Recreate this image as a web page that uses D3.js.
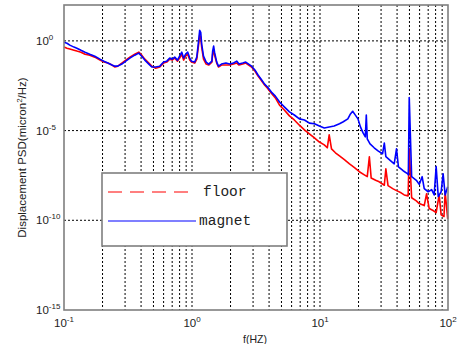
<!DOCTYPE html>
<html>
<head>
<meta charset="utf-8">
<script src="https://cdn.jsdelivr.net/npm/d3@7"></script>
<style>
  body { margin: 0; background: #fff; }
  svg { display: block; }
</style>
</head>
<body>
<figure id="psd" style="margin:0"></figure>
<script>
// magnet (blue)
const magnetFreq = [0.1, 0.1055, 0.111, 0.1197, 0.126, 0.1357, 0.146, 0.159, 0.174, 0.191, 0.205, 0.22, 0.237, 0.25, 0.263, 0.283, 0.304, 0.327, 0.357, 0.384, 0.405, 0.428, 0.46, 0.485, 0.52, 0.56, 0.6, 0.635, 0.67, 0.7, 0.733, 0.77, 0.8, 0.832, 0.86, 0.89, 0.926, 0.96, 0.99, 1.05, 1.09, 1.13, 1.148, 1.17, 1.19, 1.23, 1.29, 1.35, 1.43, 1.45, 1.476, 1.5, 1.56, 1.61, 1.7, 1.84, 1.97, 2.11, 2.24, 2.33, 2.49, 2.63, 2.77, 2.92, 3.1, 3.28, 3.46, 3.69, 3.89, 4.17, 4.48, 4.83, 5.26, 5.77, 6.3, 6.9, 7.56, 8.26, 9.05, 9.89, 10.8, 11.8, 12.9, 14.2, 15.2, 16.5, 17.3, 18.0, 18.6, 19.8, 20.7, 21.7, 22.6, 23.0, 23.4, 24.6, 26.5, 28.4, 30.8, 31.8, 32.7, 35.5, 38.0, 39.6, 41.0, 44.6, 48.5, 49.0, 49.8, 52.0, 56.6, 59.6, 62.8, 65.2, 70.0, 74.5, 78.0, 80.8, 83.9, 88.4, 91.6, 95.0, 99.5];
const magnetPSD = [0.85, 0.74, 0.58, 0.45, 0.39, 0.3, 0.235, 0.18, 0.14, 0.096, 0.074, 0.058, 0.045, 0.039, 0.039, 0.051, 0.074, 0.11, 0.16, 0.207, 0.14, 0.085, 0.051, 0.035, 0.035, 0.039, 0.066, 0.074, 0.11, 0.096, 0.124, 0.085, 0.14, 0.235, 0.11, 0.18, 0.235, 0.11, 0.074, 0.066, 0.124, 1.24, 3.9, 3.0, 0.66, 0.14, 0.066, 0.051, 0.074, 0.27, 0.51, 0.235, 0.066, 0.039, 0.051, 0.058, 0.051, 0.058, 0.074, 0.051, 0.058, 0.066, 0.051, 0.039, 0.024, 0.0125, 0.0075, 0.0039, 0.0027, 0.0014, 8.3e-4, 3.9e-4, 2.1e-4, 1.1e-4, 7.4e-5, 4.5e-5, 3.9e-5, 2.6e-5, 2.4e-5, 1.8e-5, 1.4e-5, 1.6e-5, 1.8e-5, 2.4e-5, 3.1e-5, 4.5e-5, 8.5e-5, 1.2e-4, 8.5e-5, 4.5e-5, 1.6e-5, 7.4e-6, 4.5e-6, 7.4e-5, 3.5e-6, 1.8e-6, 1.1e-6, 7.4e-7, 5.1e-7, 2.0e-6, 3.5e-7, 2.1e-7, 1.4e-7, 9.6e-7, 9.6e-8, 5.8e-8, 3.9e-8, 3.4e-8, 7.0e-4, 2.7e-8, 1.7e-8, 1.0e-8, 2.7e-8, 5.8e-9, 3.9e-9, 5.1e-9, 2.6e-9, 1.0e-7, 2.1e-9, 3.9e-9, 3.9e-8, 2.6e-9, 7.4e-9];

// floor (red)
const floorFreq = [0.1, 0.1055, 0.111, 0.1197, 0.126, 0.1357, 0.146, 0.159, 0.174, 0.191, 0.205, 0.22, 0.237, 0.25, 0.263, 0.283, 0.304, 0.327, 0.357, 0.384, 0.405, 0.428, 0.46, 0.485, 0.52, 0.56, 0.6, 0.635, 0.67, 0.7, 0.733, 0.77, 0.8, 0.832, 0.86, 0.89, 0.926, 0.96, 0.99, 1.05, 1.09, 1.13, 1.148, 1.17, 1.19, 1.23, 1.29, 1.35, 1.43, 1.45, 1.476, 1.5, 1.56, 1.61, 1.7, 1.84, 1.97, 2.11, 2.24, 2.33, 2.49, 2.63, 2.77, 2.92, 3.1, 3.28, 3.46, 3.69, 3.89, 4.17, 4.48, 4.83, 5.26, 5.77, 6.3, 6.9, 7.56, 8.26, 9.05, 9.89, 10.8, 11.4, 11.8, 12.3, 13.2, 14.2, 15.5, 17.0, 18.6, 20.3, 22.2, 23.4, 24.3, 25.1, 27.2, 29.0, 31.8, 32.7, 34.0, 37.0, 39.6, 43.0, 45.5, 48.8, 49.8, 52.0, 56.6, 59.6, 65.2, 68.0, 71.3, 76.5, 80.8, 85.3, 88.4, 93.0, 95.0, 99.5];
const floorPSD = [0.45, 0.39, 0.35, 0.3, 0.27, 0.235, 0.18, 0.16, 0.124, 0.085, 0.066, 0.058, 0.045, 0.035, 0.039, 0.058, 0.085, 0.124, 0.18, 0.235, 0.16, 0.096, 0.058, 0.039, 0.03, 0.035, 0.058, 0.066, 0.096, 0.085, 0.11, 0.074, 0.11, 0.18, 0.085, 0.14, 0.18, 0.085, 0.066, 0.058, 0.096, 0.74, 2.1, 1.6, 0.45, 0.096, 0.051, 0.045, 0.066, 0.18, 0.3, 0.16, 0.058, 0.035, 0.045, 0.045, 0.045, 0.051, 0.058, 0.045, 0.051, 0.058, 0.045, 0.035, 0.021, 0.011, 0.0066, 0.0035, 0.0023, 0.0012, 6.6e-4, 2.6e-4, 1.4e-4, 6.6e-5, 3.9e-5, 2.0e-5, 1.1e-5, 6.6e-6, 3.9e-6, 2.3e-6, 1.6e-6, 1.1e-6, 5.8e-6, 9.6e-7, 5.8e-7, 3.9e-7, 2.4e-7, 1.4e-7, 8.5e-8, 5.1e-8, 3.4e-8, 2.7e-8, 3.5e-7, 2.3e-8, 1.7e-8, 1.4e-8, 9.0e-9, 7.4e-8, 8.5e-9, 5.8e-9, 4.5e-9, 3.4e-9, 2.6e-9, 2.3e-9, 9.6e-7, 1.8e-9, 1.2e-9, 8.5e-10, 6.6e-10, 3.0e-9, 4.5e-10, 3.5e-10, 2.7e-10, 2.6e-9, 2.0e-10, 1.6e-10, 3.9e-9, 1.2e-10];

const xTickExp = [-1, 0, 1, 2];
const yTickExp = [0, -5, -10, -15];
const yGridExp = [0, -5, -10];
const legendNames = ['floor', 'magnet'];

const W = 457, H = 344;
const mLeft = 64, mRight = 448, mTop = 5, mBottom = 310;

const svg = d3.select('figure#psd')
  .append('svg')
  .attr('width', W)
  .attr('height', H);

const x = d3.scaleLog().domain([0.1, 100]).range([mLeft, mRight]);
const y = d3.scaleLog().domain([1e-15, 1e2]).range([mBottom, mTop]);

// vertical grid at every 1..9 x decade
const xGrid = [];
for (let e = -1; e < 2; e++) {
  for (let m = 1; m < 10; m++) {
    if (e === -1 && m === 1) continue;
    xGrid.push(m * Math.pow(10, e));
  }
}

svg.append('g')
  .selectAll('line')
  .data(xGrid)
  .enter()
  .append('line')
  .attr('x1', d => x(d)).attr('x2', d => x(d))
  .attr('y1', mTop).attr('y2', mBottom)
  .attr('stroke', '#000')
  .attr('stroke-width', 1)
  .attr('stroke-dasharray', '2,2');

svg.append('g')
  .selectAll('line')
  .data(yGridExp)
  .enter()
  .append('line')
  .attr('x1', mLeft).attr('x2', mRight)
  .attr('y1', d => y(Math.pow(10, d))).attr('y2', d => y(Math.pow(10, d)))
  .attr('stroke', '#000')
  .attr('stroke-width', 1)
  .attr('stroke-dasharray', '2,2');

const line = d3.line()
  .x(d => x(d[0]))
  .y(d => y(d[1]));

svg.append('path')
  .datum(d3.zip(floorFreq, floorPSD))
  .attr('fill', 'none')
  .attr('stroke', '#ff0000')
  .attr('stroke-width', 1.6)
  .attr('stroke-linejoin', 'round')
  .attr('d', line);

svg.append('path')
  .datum(d3.zip(magnetFreq, magnetPSD))
  .attr('fill', 'none')
  .attr('stroke', '#0000ff')
  .attr('stroke-width', 1.6)
  .attr('stroke-linejoin', 'round')
  .attr('d', line);

// frame
svg.append('rect')
  .attr('x', mLeft).attr('y', mTop)
  .attr('width', mRight - mLeft).attr('height', mBottom - mTop)
  .attr('fill', 'none')
  .attr('stroke', '#7f7f7f')
  .attr('stroke-width', 1.6);

// tick labels as 10^n
const yLab = svg.append('g')
  .selectAll('text')
  .data(yTickExp)
  .enter()
  .append('text')
  .attr('x', 36)
  .attr('y', d => y(Math.pow(10, d)) + 4)
  .attr('font-family', 'Liberation Sans, Arial, sans-serif')
  .attr('font-size', 11.5)
  .attr('fill', '#222');
yLab.append('tspan').text('10');
yLab.append('tspan').attr('dy', -5).attr('font-size', 8).text(d => d);

const xLab = svg.append('g')
  .selectAll('text')
  .data(xTickExp)
  .enter()
  .append('text')
  .attr('x', d => x(Math.pow(10, d)))
  .attr('y', 327)
  .attr('text-anchor', 'middle')
  .attr('font-family', 'Liberation Sans, Arial, sans-serif')
  .attr('font-size', 11.5)
  .attr('fill', '#222');
xLab.append('tspan').text('10');
xLab.append('tspan').attr('dy', -5).attr('font-size', 8).text(d => d);

svg.append('text')
  .attr('x', 255).attr('y', 343)
  .attr('text-anchor', 'middle')
  .attr('font-family', 'Liberation Sans, Arial, sans-serif')
  .attr('font-size', 10.5)
  .attr('fill', '#222')
  .text('f(HZ)');

const yTitle = svg.append('text')
  .attr('transform', 'translate(26,' + ((mTop + mBottom) / 2) + ') rotate(-90)')
  .attr('text-anchor', 'middle')
  .attr('font-family', 'Liberation Sans, Arial, sans-serif')
  .attr('font-size', 11.5)
  .attr('fill', '#222');
yTitle.append('tspan').text('Displacement PSD(micron');
yTitle.append('tspan').attr('dy', -4).attr('font-size', 8).text('2');
yTitle.append('tspan').attr('dy', 4).text('/Hz)');

// legend
const lg = svg.append('g');
lg.append('rect')
  .attr('x', 102).attr('y', 173)
  .attr('width', 185).attr('height', 73)
  .attr('fill', '#fff')
  .attr('stroke', '#7f7f7f')
  .attr('stroke-width', 1.6);

const legendColors = ['#ff0000', '#0000ff'];
const legendDash = ['14,8', null];
legendNames.forEach((name, i) => {
  const ly = 192 + i * 29;
  lg.append('line')
    .attr('x1', 108).attr('x2', 196)
    .attr('y1', ly).attr('y2', ly)
    .attr('stroke', legendColors[i])
    .attr('stroke-width', 1.2)
    .attr('stroke-dasharray', legendDash[i]);
  lg.append('text')
    .attr('x', i === 0 ? 203 : 199).attr('y', ly + 4)
    .attr('font-family', 'Liberation Mono, DejaVu Sans Mono, monospace')
    .attr('font-size', 14.5)
    .attr('fill', '#222')
    .text(name);
});
</script>
</body>
</html>
